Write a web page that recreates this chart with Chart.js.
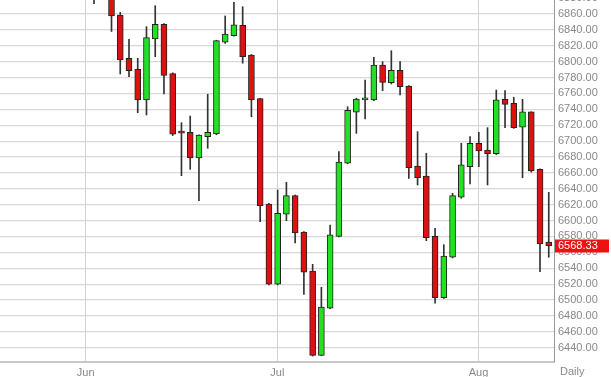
<!DOCTYPE html>
<html><head><meta charset="utf-8">
<script src="https://cdn.jsdelivr.net/npm/chart.js@4.4.0/dist/chart.umd.min.js"></script>
<style>html,body{margin:0;padding:0;background:#fff;overflow:hidden}#wrap{width:611px;height:377px;position:relative}</style>
</head><body><div id="wrap"><canvas id="c" width="611" height="377"></canvas></div>
<script>
// Daily OHLC candles (index 0 = first candle shown)
const openP  = [6895,6905,6885,6858.7,6804.2,6790.4,6751.8,6828.5,6847.0,6784.9,6710.8,6711.1,6678.8,6705.6,6709.0,6824.4,6832.7,6845.8,6808.4,6753.4,6620.9,6519.8,6607.9,6631.3,6585.6,6536.5,6430.4,6489.6,6580.2,6672.1,6736.3,6752.0,6751.8,6795.8,6773.5,6789.1,6769.4,6668.7,6656.1,6580.2,6502.9,6553.8,6629.3,6667.8,6697.3,6688.8,6684.2,6752.6,6747.6,6717.4,6736.7,6664.5,6573.0];
const highP  = [6900,6912,6890,6862,6828.2,6804.2,6844.0,6870.4,6848,6786,6723.2,6731.6,6708,6758.9,6827,6857.5,6874.7,6869.2,6809,6754,6621.8,6638.5,6648.2,6632,6586,6545.0,6516.0,6594.4,6686.7,6743.3,6754,6776.9,6805.5,6800.0,6813.8,6800.0,6770,6711.9,6684.7,6590.3,6569.6,6634.3,6697.3,6705.6,6711.1,6716.9,6764.3,6763.5,6755.2,6752.6,6737,6665,6635.6];
const lowP   = [6873,6882,6838,6784.5,6781.1,6735.8,6732.9,6806.3,6759.3,6707,6656.5,6664.5,6625.0,6691.0,6708,6823,6832,6798.0,6730.7,6598.6,6519,6519,6599.9,6571.8,6507.2,6429.5,6430,6489,6579.5,6671.5,6709.8,6727.8,6751,6763.5,6771.9,6758.1,6653.2,6644.8,6574.7,6495.9,6502,6553,6628,6646.0,6667.8,6644.8,6683,6716.9,6716,6654.0,6661,6535.7,6553.8];
const closeP = [6885,6893,6857.5,6802.1,6788.6,6751.8,6830.2,6847.0,6782.8,6708.6,6710.0,6678.8,6707.7,6711.1,6826.4,6834.8,6846.2,6806.3,6751.8,6618.7,6519.8,6609.2,6631.3,6584.4,6534.9,6430.4,6491.2,6581.9,6673.7,6738.8,6753.0,6752.8,6795.8,6774.0,6789.1,6768.5,6666.6,6654.0,6578.5,6502.9,6555.4,6631.3,6670.0,6697.3,6687.6,6684.2,6752.1,6746.3,6716.9,6736.7,6662.4,6570.5,6568.33];
const yTickValues = [6440,6460,6480,6500,6520,6540,6560,6580,6600,6620,6640,6660,6680,6700,6720,6740,6760,6780,6800,6820,6840,6860];
const topCutTick = 6880;
const monthTickPos = [-0.95, 20.96, 43.97];
const monthLabels = ['Jun','Jul','Aug'];
const lastPriceLabel = '6568.33';
const periodLabel = 'Daily';

const UP = '#22e022', DOWN = '#dd1111';
const bodies = openP.map((o,i)=>({x:i, y:[Math.min(o,closeP[i]), Math.max(o,closeP[i])]}));
const wicks = openP.map((o,i)=>({x:i, y:[lowP[i], highP[i]]}));
const bodyColors = openP.map((o,i)=> closeP[i] > o ? UP : DOWN);

const FONT = {size: 11, family: '"Liberation Sans", Arial, sans-serif'};

const overlay = {
  id: 'overlay',
  afterDraw(chart){
    const ctx = chart.ctx, ys = chart.scales.y, ca = chart.chartArea;
    const last = closeP[closeP.length-1];
    const py = ys.getPixelForValue(last);
    ctx.save();
    ctx.font = '11px "Liberation Sans", Arial, sans-serif';
    ctx.textBaseline = 'middle';
    ctx.textAlign = 'left';
    // partially visible top tick label
    ctx.fillStyle = '#888888';
    ctx.fillText(topCutTick.toFixed(2), ca.right + 4, ys.getPixelForValue(topCutTick));
    ctx.fillText(periodLabel, ca.right + 6, 372);
    ctx.fillStyle = '#ee1111';
    ctx.fillRect(ca.right + 1, Math.round(py) - 6.5, 54, 13);
    ctx.fillStyle = '#ffffff';
    ctx.fillText(lastPriceLabel, ca.right + 4, Math.round(py));
    ctx.restore();
  }
};

new Chart(document.getElementById('c'), {
  type: 'bar',
  data: {
    datasets: [
      {data: bodies, backgroundColor: bodyColors, borderColor: '#222', borderWidth: 1, borderSkipped: false, barThickness: 6, grouped: false, minBarLength: 2},
      {data: wicks, backgroundColor: '#333', borderWidth: 0, barThickness: 1, grouped: false}
    ]
  },
  options: {
    responsive: false,
    animation: false,
    devicePixelRatio: 1,
    layout: {padding: 0},
    plugins: {legend: {display: false}, tooltip: {enabled: false}},
    scales: {
      x: {
        type: 'linear', min: -10.75, max: 52.6, offset: false,
        grid: {color: '#d2d2d2', lineWidth: 1, drawTicks: false, offset: false},
        border: {color: '#c8c8c8', width: 2},
        ticks: {color: '#888', font: FONT, padding: 4, autoSkip: false, maxRotation: 0,
          callback: (v, i) => monthLabels[i]},
        afterBuildTicks: s => { s.ticks = monthTickPos.map(v => ({value: v})); },
        afterFit: s => { s.height = 15; s.paddingLeft = 0; s.paddingRight = 0; }
      },
      y: {
        position: 'right', min: 6422.0, max: 6877.6,
        grid: {color: '#d8d8d8', lineWidth: 1.2, drawTicks: false},
        border: {color: '#999', width: 1},
        ticks: {color: '#888', font: FONT, padding: 4, autoSkip: false, callback: v => Number(v).toFixed(2)},
        afterBuildTicks: s => { s.ticks = yTickValues.map(v => ({value: v})); },
        afterFit: s => { s.width = 57; s.paddingTop = 0; s.paddingBottom = 0; }
      }
    }
  },
  plugins: [overlay]
});
</script></body></html>
